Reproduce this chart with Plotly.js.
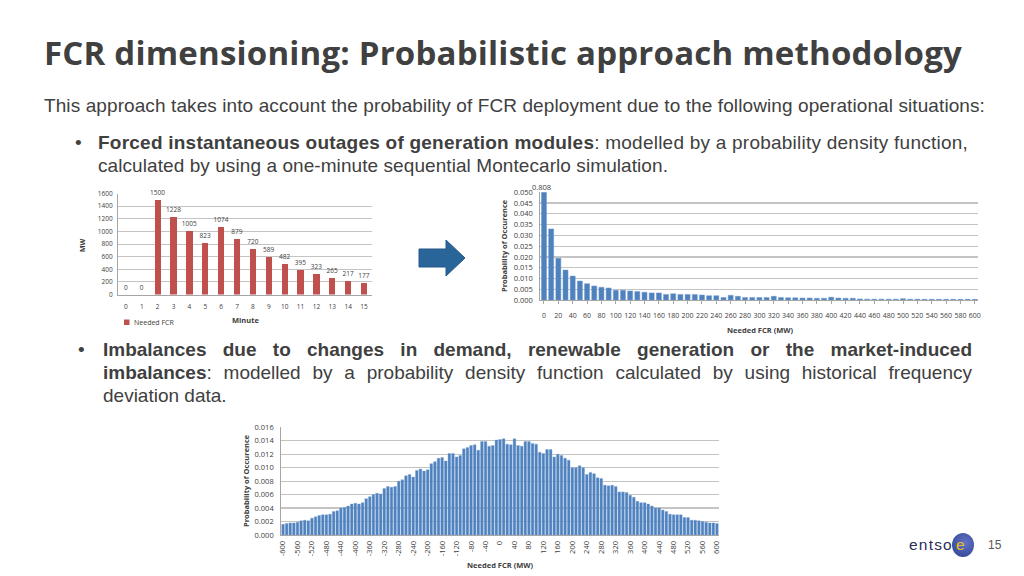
<!DOCTYPE html>
<html><head><meta charset="utf-8">
<script src="https://cdn.plot.ly/plotly-3.0.1.min.js"></script>
<style>
body{margin:0;background:#fff;}
#wrap{position:relative;width:1024px;height:576px;overflow:hidden;font-family:"Liberation Sans",Arial,sans-serif;color:#404040;}
#chart{position:absolute;left:0;top:0;width:1024px;height:576px;}
.t{position:absolute;white-space:nowrap;pointer-events:none;}
.b{font-size:19px;line-height:23px;}
.ln{position:absolute;left:103px;width:869px;font-size:19px;line-height:23px;text-align:justify;text-align-last:justify;white-space:nowrap;}
</style></head><body>
<div id="wrap">
<div id="chart"></div>
<div class="t" data-w="918" style="left:44px;top:30px;font-family:'Open Sans';font-weight:700;font-size:33px;line-height:46px;color:#404040;">FCR dimensioning: Probabilistic approach methodology</div>
<div class="t b" data-w="941" style="left:44px;top:94px;">This approach takes into account the probability of FCR deployment due to the following operational situations:</div>
<div class="t b" style="left:75px;top:131px;">•</div>
<div class="t b" data-w="870" style="left:98px;top:131px;"><b>Forced instantaneous outages of generation modules</b>: modelled by a probability density function,</div>
<div class="t b" data-w="570" style="left:98px;top:154px;">calculated by using a one-minute sequential Montecarlo simulation.</div>
<div class="t b" style="left:78px;top:338px;">•</div>
<div class="ln" style="top:338px;"><span><b>Imbalances due to changes in demand, renewable generation or the market-induced</b></span></div>
<div class="ln" style="top:361px;"><span><b>imbalances</b>: modelled by a probability density function calculated by using historical frequency</span></div>
<div class="ln" style="top:384px;text-align:left;text-align-last:left;"><span>deviation data.</span></div>
<div class="t" style="left:909px;top:535px;font-family:'Liberation Sans';font-size:15.5px;letter-spacing:1.2px;color:#2b2d5c;line-height:20px;">entso</div>
<div style="position:absolute;left:952px;top:533px;width:22px;height:24px;border-radius:50%;background:radial-gradient(circle at 60% 40%,#6272c4,#2c3e8f);"></div>
<div class="t" style="left:956px;top:535px;font-family:'Liberation Sans';font-size:15.5px;color:#e9c21e;line-height:20px;">e</div>
<div class="t" style="left:988px;top:537px;font-size:12px;color:#595959;line-height:16px;">15</div>
</div>
<script>
// fit slide text widths to the reference
document.querySelectorAll('[data-w]').forEach(el => {
  const target = +el.dataset.w, n = el.textContent.length;
  const w = el.getBoundingClientRect().width;
  el.style.letterSpacing = ((target - w) / n) + 'px';
});
document.querySelectorAll('.ln').forEach(el => {
  const s = el.querySelector('span');
  const ta = el.style.textAlign, tal = el.style.textAlignLast;
  el.style.textAlign = 'left'; el.style.textAlignLast = 'left';
  let fs = 19;
  while (s.getBoundingClientRect().width > 866 && fs > 12) { fs -= 0.25; el.style.fontSize = fs + 'px'; }
  el.style.textAlign = ta; el.style.textAlignLast = tal;
});

// ---- Chart 1: needed FCR per minute
const minutes = [0,1,2,3,4,5,6,7,8,9,10,11,12,13,14,15];
const neededFcrMW = [0,0,1500,1228,1005,823,1074,879,720,589,482,395,323,265,217,177];
const seriesName1 = 'Needed FCR';

// ---- Chart 2: outages of generation modules
const outageMW = [0,10,20,30,40,50,60,70,80,90,100,110,120,130,140,150,160,170,180,190,200,210,220,230,240,250,260,270,280,290,300,310,320,330,340,350,360,370,380,390,400,410,420,430,440,450,460,470,480,490,500,510,520,530,540,550,560,570,580,590,600];
const outageProb = [0.808,0.0330,0.0194,0.0139,0.0111,0.0088,0.0076,0.0065,0.0059,0.0056,0.0045,0.0045,0.0042,0.0039,0.0036,0.0033,0.0033,0.0026,0.0029,0.0026,0.0026,0.0026,0.0023,0.0020,0.0020,0.0012,0.0022,0.0017,0.0012,0.0012,0.0012,0.0012,0.0017,0.0012,0.0010,0.0010,0.0009,0.0009,0.0008,0.0008,0.0013,0.0009,0.0008,0.0008,0.0005,0.0004,0.0004,0.0004,0.0004,0.0004,0.0006,0.0004,0.0004,0.0003,0.0003,0.0003,0.0003,0.0003,0.0003,0.0003,0.0003];
const outageTicks = [0,20,40,60,80,100,120,140,160,180,200,220,240,260,280,300,320,340,360,380,400,420,440,460,480,500,520,540,560,580,600];

// ---- Chart 3: imbalances
const imbalanceMW = [-600,-590,-580,-570,-560,-550,-540,-530,-520,-510,-500,-490,-480,-470,-460,-450,-440,-430,-420,-410,-400,-390,-380,-370,-360,-350,-340,-330,-320,-310,-300,-290,-280,-270,-260,-250,-240,-230,-220,-210,-200,-190,-180,-170,-160,-150,-140,-130,-120,-110,-100,-90,-80,-70,-60,-50,-40,-30,-20,-10,0,10,20,30,40,50,60,70,80,90,100,110,120,130,140,150,160,170,180,190,200,210,220,230,240,250,260,270,280,290,300,310,320,330,340,350,360,370,380,390,400,410,420,430,440,450,460,470,480,490,500,510,520,530,540,550,560,570,580,590,600];
const imbalanceProb = [0.0016,0.0017,0.0018,0.0018,0.0019,0.0021,0.0022,0.0021,0.0025,0.0027,0.0029,0.0030,0.0030,0.0031,0.0035,0.0036,0.0040,0.0041,0.0043,0.0046,0.0047,0.0046,0.0048,0.0054,0.0057,0.0060,0.0062,0.0061,0.0069,0.0072,0.0071,0.0072,0.0080,0.0082,0.0088,0.0090,0.0086,0.0096,0.0098,0.0095,0.0097,0.0106,0.0109,0.0114,0.0115,0.0110,0.0121,0.0121,0.0116,0.0118,0.0128,0.0130,0.0133,0.0134,0.0126,0.0139,0.0139,0.0132,0.0133,0.0141,0.0142,0.0143,0.0135,0.0134,0.0143,0.0133,0.0132,0.0139,0.0139,0.0136,0.0135,0.0123,0.0121,0.0127,0.0127,0.0116,0.0120,0.0118,0.0114,0.0111,0.0100,0.0100,0.0103,0.0100,0.0090,0.0093,0.0091,0.0085,0.0084,0.0074,0.0073,0.0074,0.0072,0.0064,0.0064,0.0063,0.0059,0.0056,0.0050,0.0048,0.0048,0.0046,0.0043,0.0040,0.0040,0.0037,0.0035,0.0031,0.0030,0.0030,0.0030,0.0026,0.0026,0.0022,0.0022,0.0021,0.0020,0.0019,0.0018,0.0018,0.0017];
const imbalanceTicks = [-600,-560,-520,-480,-440,-400,-360,-320,-280,-240,-200,-160,-120,-80,-40,0,40,80,120,160,200,240,280,320,360,400,440,480,520,560,600];

const W = 1024, H = 576;
const px = v => v / W, py = v => 1 - v / H;
const F = 'Open Sans, Noto Sans, sans-serif';
const TXT = '#404040';
const GRID = '#c4c4c4';

const traces = [
  {type:'bar', x:minutes, y:neededFcrMW, name:seriesName1, xaxis:'x', yaxis:'y',
   marker:{color:'#c0504d'}, width:0.4, text:neededFcrMW.map(String), textposition:'outside',
   constraintext:'none', cliponaxis:false, textfont:{family:F, size:6.5, color:TXT}, showlegend:false},
  {type:'bar', x:outageMW, y:outageProb, xaxis:'x2', yaxis:'y2', width:7,
   marker:{color:'#4f81bd', line:{color:'#6f9bd1', width:0.5}}, showlegend:false},
  {type:'bar', x:imbalanceMW, y:imbalanceProb, xaxis:'x3', yaxis:'y3', width:7.4,
   marker:{color:'#4f81bd', line:{color:'#7aa3d6', width:0.4}}, showlegend:false}
];

const axBase = {showgrid:false, zeroline:false, showline:true, linecolor:'#a6a6a6', linewidth:1,
  tickfont:{family:F, size:7.5, color:TXT}, fixedrange:true};

const layout = {
  width:W, height:H, margin:{l:0,r:0,t:0,b:0}, paper_bgcolor:'#fff', plot_bgcolor:'rgba(0,0,0,0)',
  showlegend:false, bargap:0,
  xaxis: Object.assign({}, axBase, {domain:[px(118), px(372)], anchor:'y', range:[-0.5,15.5],
    tickvals:minutes, ticktext:minutes.map(String), ticks:'', ticklabelstandoff:6, tickfont:{family:F,size:6.5,color:TXT}}),
  yaxis: Object.assign({}, axBase, {domain:[py(294.5), py(193.5)], anchor:'x', range:[0,1600], dtick:200,
    showgrid:true, gridcolor:GRID, ticks:'', ticklabelstandoff:3, tickfont:{family:F,size:6.5,color:TXT}}),
  xaxis2: Object.assign({}, axBase, {domain:[px(540.4), px(978.4)], anchor:'y2', range:[-5,605], tickangle:0,
    tickvals:outageTicks, ticktext:outageTicks.map(String), ticks:'outside', ticklen:3, tickcolor:'#a6a6a6', ticklabelstandoff:6,
    tickfont:{family:F, size:7, color:TXT}}),
  yaxis2: Object.assign({}, axBase, {domain:[py(300), py(192.3)], anchor:'x2', range:[0,0.05], dtick:0.005, tickformat:'.3f',
    showgrid:true, gridcolor:GRID, gridwidth:1.3, ticks:'', ticklabelstandoff:5}),
  xaxis3: Object.assign({}, axBase, {domain:[px(281.2), px(718.8)], anchor:'y3', range:[-605,605],
    tickvals:imbalanceTicks, ticktext:imbalanceTicks.map(String), tickangle:-90, ticks:'', ticklabelstandoff:2}),
  yaxis3: Object.assign({}, axBase, {domain:[py(535), py(427.3)], anchor:'x3', range:[0,0.016], dtick:0.002, tickformat:'.3f',
    showgrid:true, gridcolor:GRID, gridwidth:1.3, ticks:'', ticklabelstandoff:5}),
  shapes:[
    {type:'rect', xref:'paper', yref:'paper', x0:px(124), x1:px(129.5), y0:py(325), y1:py(319.5), fillcolor:'#c0504d', line:{width:0}},
    {type:'path', xref:'paper', yref:'paper',
     path:'M '+px(419)+' '+py(249)+' L '+px(446)+' '+py(249)+' L '+px(446)+' '+py(240)+' L '+px(465)+' '+py(258)+' L '+px(446)+' '+py(276)+' L '+px(446)+' '+py(267)+' L '+px(419)+' '+py(267)+' Z',
     fillcolor:'#2a6599', line:{color:'#24598a', width:1}}
  ],
  annotations:[
    {xref:'paper', yref:'paper', x:px(132), y:py(322), xanchor:'left', yanchor:'middle', showarrow:false,
     text:seriesName1, font:{family:F, size:7, color:TXT}},
    {xref:'paper', yref:'paper', x:px(245), y:py(320), xanchor:'center', yanchor:'middle', showarrow:false,
     text:'<b>Minute</b>', font:{family:F, size:7.5, color:TXT}},
    {xref:'paper', yref:'paper', x:px(82), y:py(245), xanchor:'center', yanchor:'middle', showarrow:false, textangle:-90,
     text:'<b>MW</b>', font:{family:F, size:7, color:TXT}},
    {xref:'x2', yref:'y2', x:outageMW[0], y:0.05, xanchor:'center', yanchor:'bottom', xshift:-2, yshift:-2, showarrow:false,
     text:String(outageProb[0]), font:{family:F, size:7.5, color:TXT}},
    {xref:'paper', yref:'paper', x:px(760), y:py(330), xanchor:'center', yanchor:'middle', showarrow:false,
     text:'<b>Needed FCR (MW)</b>', font:{family:F, size:7.5, color:TXT}},
    {xref:'paper', yref:'paper', x:px(504), y:py(246), xanchor:'center', yanchor:'middle', showarrow:false, textangle:-90,
     text:'<b>Probability of Occurence</b>', font:{family:F, size:7.5, color:TXT}},
    {xref:'paper', yref:'paper', x:px(500), y:py(565), xanchor:'center', yanchor:'middle', showarrow:false,
     text:'<b>Needed FCR (MW)</b>', font:{family:F, size:7.5, color:TXT}},
    {xref:'paper', yref:'paper', x:px(246), y:py(481), xanchor:'center', yanchor:'middle', showarrow:false, textangle:-90,
     text:'<b>Probability of Occurence</b>', font:{family:F, size:7.5, color:TXT}}
  ]
};

Plotly.newPlot('chart', traces, layout, {staticPlot:true, displayModeBar:false});
</script>
</body></html>
